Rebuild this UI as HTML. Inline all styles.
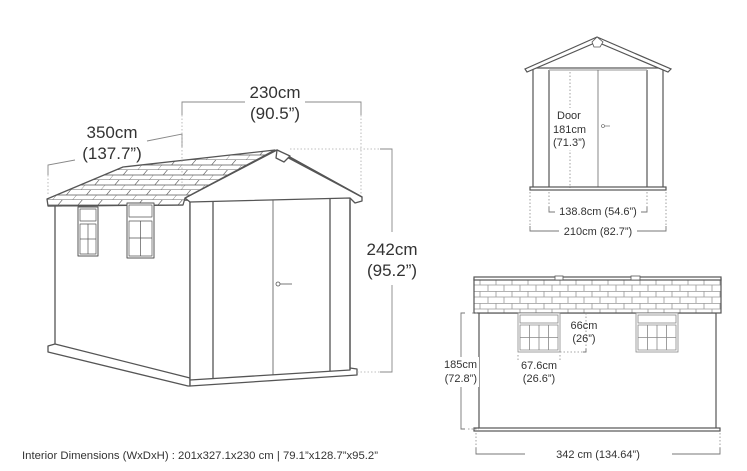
<!DOCTYPE html>
<html><head><meta charset="utf-8"><style>
html,body{margin:0;padding:0;background:#fff;}
svg{display:block;}
text{font-family:"Liberation Sans","DejaVu Sans",sans-serif;fill:#333;}
</style></head><body>
<svg width="747" height="471" viewBox="0 0 747 471" xmlns="http://www.w3.org/2000/svg">
<defs>
<pattern id="sh" width="20" height="10" patternUnits="userSpaceOnUse" patternTransform="skewX(-40)">
<rect width="20" height="10" fill="#fff"/>
<path d="M0 10H20M10 0V5M0 5H20M0 5V10" stroke="#666" stroke-width="0.9" fill="none"/>
</pattern>
<pattern id="br" width="16" height="12" patternUnits="userSpaceOnUse" x="478" y="279">
<rect width="16" height="12" fill="#fff"/>
<path d="M0 0.3H16M0 6H16M2 0V6M10 6V12" stroke="#999" stroke-width="0.8" fill="none"/>
</pattern>
</defs>
<g stroke="#555" stroke-width="1.3" fill="#fff" stroke-linejoin="round">
<polygon points="55,205 190,200 190,380 55,345"/>
<polygon points="48,346 55,344 190,378 190,386 188,386 48,352"/>
<polygon points="190,378 350,368 357,369 357,375 190,386"/>
<polygon points="190,200 350,196 350,370 190,380"/>
<line x1="213" y1="197" x2="213" y2="379"/>
<line x1="330" y1="196" x2="330" y2="371"/>
<line x1="213" y1="197" x2="330" y2="196"/>
<line x1="273" y1="197" x2="273" y2="375" stroke-width="0.8"/>
<circle cx="278" cy="284" r="2" stroke-width="0.8"/>
<line x1="280" y1="284" x2="292" y2="284" stroke-width="0.8"/>
<line x1="350" y1="200" x2="350" y2="370"/>
<polygon points="277,150 185,198 190,202 350,198 355,203 362,201 362,197"/>
<polygon points="277,150 283,155 362,197"/>
<polygon points="277,150 290,156 284,162 276,158"/>
<polygon points="47,199 123,167 275,150 185,198 183,205 48,206" fill="url(#sh)"/>
<line x1="48" y1="206" x2="183" y2="205"/>
<rect x="78" y="207" width="20" height="49" stroke-width="1"/>
<rect x="80" y="209" width="16" height="12" stroke-width="0.7"/>
<rect x="80" y="224" width="16" height="30" stroke-width="0.7"/>
<line x1="88" y1="224" x2="88" y2="254" stroke-width="0.7"/>
<line x1="80" y1="239" x2="96" y2="239" stroke-width="0.7"/>
<rect x="127" y="203" width="27" height="55" stroke-width="1"/>
<rect x="129" y="205" width="23" height="12" stroke-width="0.7"/>
<rect x="129" y="221" width="23" height="35" stroke-width="0.7"/>
<line x1="140.5" y1="221" x2="140.5" y2="256" stroke-width="0.7"/>
<line x1="129" y1="238" x2="152" y2="238" stroke-width="0.7"/>
</g>
<g stroke="#555" stroke-width="1.2" fill="#fff">
<rect x="533" y="68" width="130" height="120"/>
<line x1="549" y1="70" x2="549" y2="188"/>
<line x1="647" y1="70" x2="647" y2="188"/>
<line x1="549" y1="70" x2="647" y2="70" stroke="#aaa"/>
<line x1="598" y1="70" x2="598" y2="188" stroke-width="0.7"/>
<circle cx="603" cy="126" r="1.5" stroke-width="0.6"/>
<line x1="605" y1="126" x2="610" y2="126" stroke-width="0.6"/>
<rect x="530" y="187" width="136" height="3"/>
<polygon points="597,37 525,69 527,72 597,42 668,72 671,69"/>
<polygon points="592,42 597,37 603,42 600,47 594,47" stroke-width="0.8"/>
</g>
<g stroke="#888" stroke-width="0.8" fill="none" stroke-dasharray="1.5,2">
<line x1="570" y1="72" x2="570" y2="188"/>
<line x1="549" y1="192" x2="549" y2="207"/><line x1="647" y1="192" x2="647" y2="207"/>
<line x1="530" y1="192" x2="530" y2="226"/><line x1="666" y1="192" x2="666" y2="226"/>
</g>
<g stroke="#777" stroke-width="0.9" fill="none">
<polyline points="549,207 549,212 555,212"/><polyline points="641,212 647,212 647,207"/>
<polyline points="530,226 530,231 559,231"/><polyline points="637,231 666,231 666,226"/>
</g>
<rect x="553" y="108" width="40" height="42" fill="#fff"/>
<text x="557" y="119" font-size="11">Door</text>
<text x="553" y="133" font-size="11">181cm</text>
<text x="553" y="146" font-size="11">(71.3”)</text>
<text x="598" y="215" font-size="11" text-anchor="middle">138.8cm (54.6”)</text>
<text x="598" y="235" font-size="11" text-anchor="middle">210cm (82.7”)</text>
<g stroke="#555" stroke-width="1.2" fill="#fff">
<rect x="479" y="313" width="237" height="116"/>
<rect x="474" y="428" width="246" height="3"/>
<rect x="474" y="279" width="247" height="34" fill="url(#br)"/>
<rect x="474" y="277" width="247" height="3"/>
<rect x="555" y="276" width="8" height="4" stroke-width="0.8"/>
<rect x="631" y="276" width="9" height="4" stroke-width="0.8"/>
</g>
<g stroke="#888" stroke-width="0.8" fill="#fff">
<rect x="518" y="313" width="42" height="39"/><rect x="520" y="315" width="38" height="8"/>
<path d="M520 325H558V350H520ZM529.5 325V350M539 325V350M548.5 325V350M520 337.5H558" fill="none"/>
<rect x="636" y="313" width="42" height="39"/><rect x="638" y="315" width="38" height="8"/>
<path d="M638 325H676V350H638ZM647.5 325V350M657 325V350M666.5 325V350M638 337.5H676" fill="none"/>
</g>
<g stroke="#888" stroke-width="0.8" fill="none" stroke-dasharray="1.5,2">
<line x1="472" y1="313" x2="479" y2="313"/><line x1="468" y1="429" x2="479" y2="429"/>
<line x1="560" y1="352" x2="585" y2="352"/><line x1="586" y1="313" x2="586" y2="352"/>
<line x1="518" y1="355" x2="518" y2="361"/><line x1="560" y1="355" x2="560" y2="361"/>
<line x1="476" y1="433" x2="476" y2="448"/><line x1="720" y1="433" x2="720" y2="448"/>
</g>
<g stroke="#777" stroke-width="0.9" fill="none">
<polyline points="465,313 461,313 461,429 465,429"/>
<polyline points="476,448 476,454 525,454"/><polyline points="672,454 720,454 720,448"/>
<polyline points="583,352 586,352 586,349"/>
</g>
<rect x="443" y="357" width="36" height="30" fill="#fff"/>
<text x="477" y="368" font-size="11" text-anchor="end">185cm</text>
<text x="477" y="382" font-size="11" text-anchor="end">(72.8”)</text>
<text x="584" y="329" font-size="11" text-anchor="middle">66cm</text>
<text x="584" y="342" font-size="11" text-anchor="middle">(26”)</text>
<text x="539" y="369" font-size="11" text-anchor="middle">67.6cm</text>
<text x="539" y="382" font-size="11" text-anchor="middle">(26.6”)</text>
<text x="598" y="458" font-size="11" text-anchor="middle">342 cm (134.64”)</text>
<g stroke="#888" stroke-width="0.9" fill="none">
<polyline points="182,115 182,102 245,102"/><polyline points="305,102 361,102 361,115"/>
<polyline points="182,147 182,134 147,141"/>
<polyline points="75,160 48,165 48,175"/>
<polyline points="380,149 392,149 392,232"/><polyline points="392,285 392,372 380,372"/>
</g>
<g stroke="#aaa" stroke-width="0.8" fill="none" stroke-dasharray="1.5,2">
<line x1="182" y1="115" x2="182" y2="190"/><line x1="361" y1="115" x2="361" y2="195"/>
<line x1="290" y1="149" x2="380" y2="149"/><line x1="357" y1="372" x2="380" y2="372"/>
<line x1="48" y1="175" x2="48" y2="196"/>
</g>
<text x="275" y="98" font-size="17" text-anchor="middle">230cm</text>
<text x="275" y="119" font-size="17" text-anchor="middle">(90.5”)</text>
<text x="112" y="138" font-size="17" text-anchor="middle">350cm</text>
<text x="112" y="159" font-size="17" text-anchor="middle">(137.7”)</text>
<text x="392" y="255" font-size="17" text-anchor="middle">242cm</text>
<text x="392" y="276" font-size="17" text-anchor="middle">(95.2”)</text>
<text x="22" y="459" font-size="11" textLength="356" lengthAdjust="spacingAndGlyphs">Interior Dimensions (WxDxH) : 201x327.1x230 cm | 79.1”x128.7”x95.2”</text>
</svg>
</body></html>
